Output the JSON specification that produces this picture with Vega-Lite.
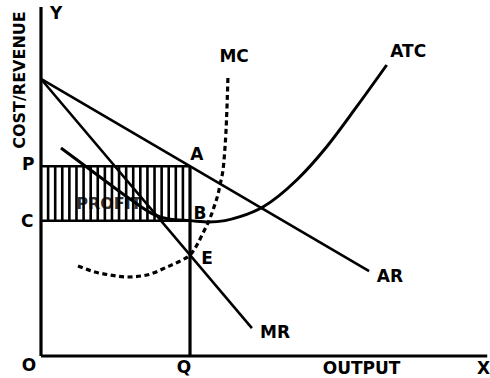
{
  "$schema": "https://vega.github.io/schema/vega-lite/v6.json",
  "width": 444,
  "height": 348,
  "autosize": {"type": "none"},
  "padding": {"left": 41, "top": 8, "right": 5, "bottom": 22},
  "background": "white",
  "config": {"view": {"stroke": null}},
  "datasets": {
    "curves": [
      {"curve": "AR", "x": 0, "y": 79.6},
      {"curve": "AR", "x": 73.9, "y": 24.4},
      {"curve": "MR", "x": 0, "y": 79.6},
      {"curve": "MR", "x": 47.5, "y": 8.0},
      {"curve": "ATC", "x": 4.5, "y": 59.77},
      {"curve": "ATC", "x": 13.29, "y": 51.44},
      {"curve": "ATC", "x": 20.05, "y": 45.11},
      {"curve": "ATC", "x": 25.23, "y": 40.8},
      {"curve": "ATC", "x": 29.05, "y": 39.3},
      {"curve": "ATC", "x": 33.56, "y": 38.9},
      {"curve": "ATC", "x": 37.84, "y": 38.5},
      {"curve": "ATC", "x": 41.44, "y": 38.9},
      {"curve": "ATC", "x": 44.82, "y": 40.03},
      {"curve": "ATC", "x": 50.07, "y": 42.9},
      {"curve": "ATC", "x": 57.59, "y": 50.57},
      {"curve": "ATC", "x": 64.35, "y": 60.14},
      {"curve": "ATC", "x": 71.1, "y": 71.64},
      {"curve": "ATC", "x": 77.86, "y": 83.62},
      {"curve": "MC", "x": 8.33, "y": 25.86},
      {"curve": "MC", "x": 12.16, "y": 24.14},
      {"curve": "MC", "x": 15.54, "y": 23.28},
      {"curve": "MC", "x": 19.37, "y": 22.7},
      {"curve": "MC", "x": 23.87, "y": 23.28},
      {"curve": "MC", "x": 28.38, "y": 25.57},
      {"curve": "MC", "x": 31.76, "y": 27.59},
      {"curve": "MC", "x": 33.56, "y": 29.0},
      {"curve": "MC", "x": 36.49, "y": 35.34},
      {"curve": "MC", "x": 38.74, "y": 41.95},
      {"curve": "MC", "x": 40.32, "y": 49.14},
      {"curve": "MC", "x": 41.22, "y": 56.32},
      {"curve": "MC", "x": 41.78, "y": 67.82},
      {"curve": "MC", "x": 42.12, "y": 80.75}
    ],
    "stripes": [
      {"x": 1.6, "y": 38.9, "y2": 54.5}, {"x": 3.2, "y": 38.9, "y2": 54.5},
      {"x": 4.79, "y": 38.9, "y2": 54.5}, {"x": 6.39, "y": 38.9, "y2": 54.5},
      {"x": 7.99, "y": 38.9, "y2": 54.5}, {"x": 9.59, "y": 38.9, "y2": 54.5},
      {"x": 11.19, "y": 38.9, "y2": 54.5}, {"x": 12.78, "y": 38.9, "y2": 54.5},
      {"x": 14.38, "y": 38.9, "y2": 54.5}, {"x": 15.98, "y": 38.9, "y2": 54.5},
      {"x": 17.58, "y": 38.9, "y2": 54.5}, {"x": 19.18, "y": 38.9, "y2": 54.5},
      {"x": 20.77, "y": 38.9, "y2": 54.5}, {"x": 22.37, "y": 38.9, "y2": 54.5},
      {"x": 23.97, "y": 38.9, "y2": 54.5}, {"x": 25.57, "y": 38.9, "y2": 54.5},
      {"x": 27.17, "y": 38.9, "y2": 54.5}, {"x": 28.76, "y": 38.9, "y2": 54.5},
      {"x": 30.36, "y": 38.9, "y2": 54.5}, {"x": 31.96, "y": 38.9, "y2": 54.5}
    ],
    "rules": [
      {"name": "P", "x": 0, "x2": 33.56, "y": 54.5, "y2": 54.5},
      {"name": "C", "x": 0, "x2": 33.56, "y": 38.9, "y2": 38.9}
    ],
    "axes": [
      {"name": "xaxis", "x": 0, "x2": 100.5, "y": 0, "y2": 0},
      {"name": "yaxis", "x": 0, "x2": 0, "y": 0, "y2": 100.3},
      {"name": "Q", "x": 33.56, "x2": 33.56, "y": 0, "y2": 54.5}
    ],
    "labels": [
      {"label": "Y", "x": 3.4, "y": 98.3},
      {"label": "P", "x": -2.9, "y": 54.8},
      {"label": "C", "x": -3.1, "y": 38.5},
      {"label": "O", "x": -2.7, "y": -3.0},
      {"label": "Q", "x": 32.2, "y": -3.5},
      {"label": "OUTPUT", "x": 72.2, "y": -3.8},
      {"label": "X", "x": 99.65, "y": -3.8},
      {"label": "A", "x": 35.1, "y": 57.8},
      {"label": "B", "x": 35.8, "y": 40.8},
      {"label": "E", "x": 37.4, "y": 27.9},
      {"label": "MC", "x": 43.5, "y": 85.9},
      {"label": "ATC", "x": 82.7, "y": 87.4},
      {"label": "AR", "x": 78.6, "y": 22.7},
      {"label": "MR", "x": 52.7, "y": 6.6}
    ],
    "ylabel": [{"label": "COST/REVENUE", "x": -4.7, "y": 79.3}],
    "profit": [{"label": "PROFIT", "x": 15.3, "y": 43.7}]
  },
  "encoding": {
    "x": {"field": "x", "type": "quantitative", "scale": {"domain": [0, 100], "nice": false, "zero": false}, "axis": null},
    "y": {"field": "y", "type": "quantitative", "scale": {"domain": [0, 100], "nice": false, "zero": false}, "axis": null}
  },
  "layer": [
    {
      "data": {"name": "profit"},
      "mark": {"type": "text", "font": "DejaVu Sans", "fontSize": 16, "fontWeight": "bold", "color": "#333", "align": "center", "baseline": "middle"},
      "encoding": {"text": {"field": "label"}}
    },
    {
      "data": {"name": "stripes"},
      "mark": {"type": "rule", "color": "black", "strokeWidth": 2.6},
      "encoding": {"y2": {"field": "y2"}}
    },
    {
      "data": {"name": "rules"},
      "mark": {"type": "rule", "color": "black", "strokeWidth": 2.5},
      "encoding": {"x2": {"field": "x2"}, "y2": {"field": "y2"}}
    },
    {
      "data": {"name": "axes"},
      "mark": {"type": "rule", "color": "black", "strokeWidth": 3.2, "strokeCap": "butt"},
      "encoding": {"x2": {"field": "x2"}, "y2": {"field": "y2"}}
    },
    {
      "data": {"name": "curves"},
      "transform": [{"filter": "datum.curve === 'AR' || datum.curve === 'MR'"}],
      "mark": {"type": "line", "color": "black", "strokeWidth": 2.6},
      "encoding": {"detail": {"field": "curve"}}
    },
    {
      "data": {"name": "curves"},
      "transform": [{"filter": "datum.curve === 'ATC'"}],
      "mark": {"type": "line", "color": "black", "strokeWidth": 3, "interpolate": "monotone"},
      "encoding": {}
    },
    {
      "data": {"name": "curves"},
      "transform": [{"filter": "datum.curve === 'MC'"}],
      "mark": {"type": "line", "color": "black", "strokeWidth": 3.2, "interpolate": "monotone", "strokeDash": [5, 3.5]},
      "encoding": {}
    },
    {
      "data": {"name": "labels"},
      "mark": {"type": "text", "font": "DejaVu Sans", "fontSize": 17, "fontWeight": "bold", "color": "black", "align": "center", "baseline": "middle"},
      "encoding": {"text": {"field": "label"}}
    },
    {
      "data": {"name": "ylabel"},
      "mark": {"type": "text", "font": "DejaVu Sans", "fontSize": 16, "fontWeight": "bold", "color": "black", "align": "center", "baseline": "middle", "angle": 270},
      "encoding": {"text": {"field": "label"}}
    }
  ]
}
